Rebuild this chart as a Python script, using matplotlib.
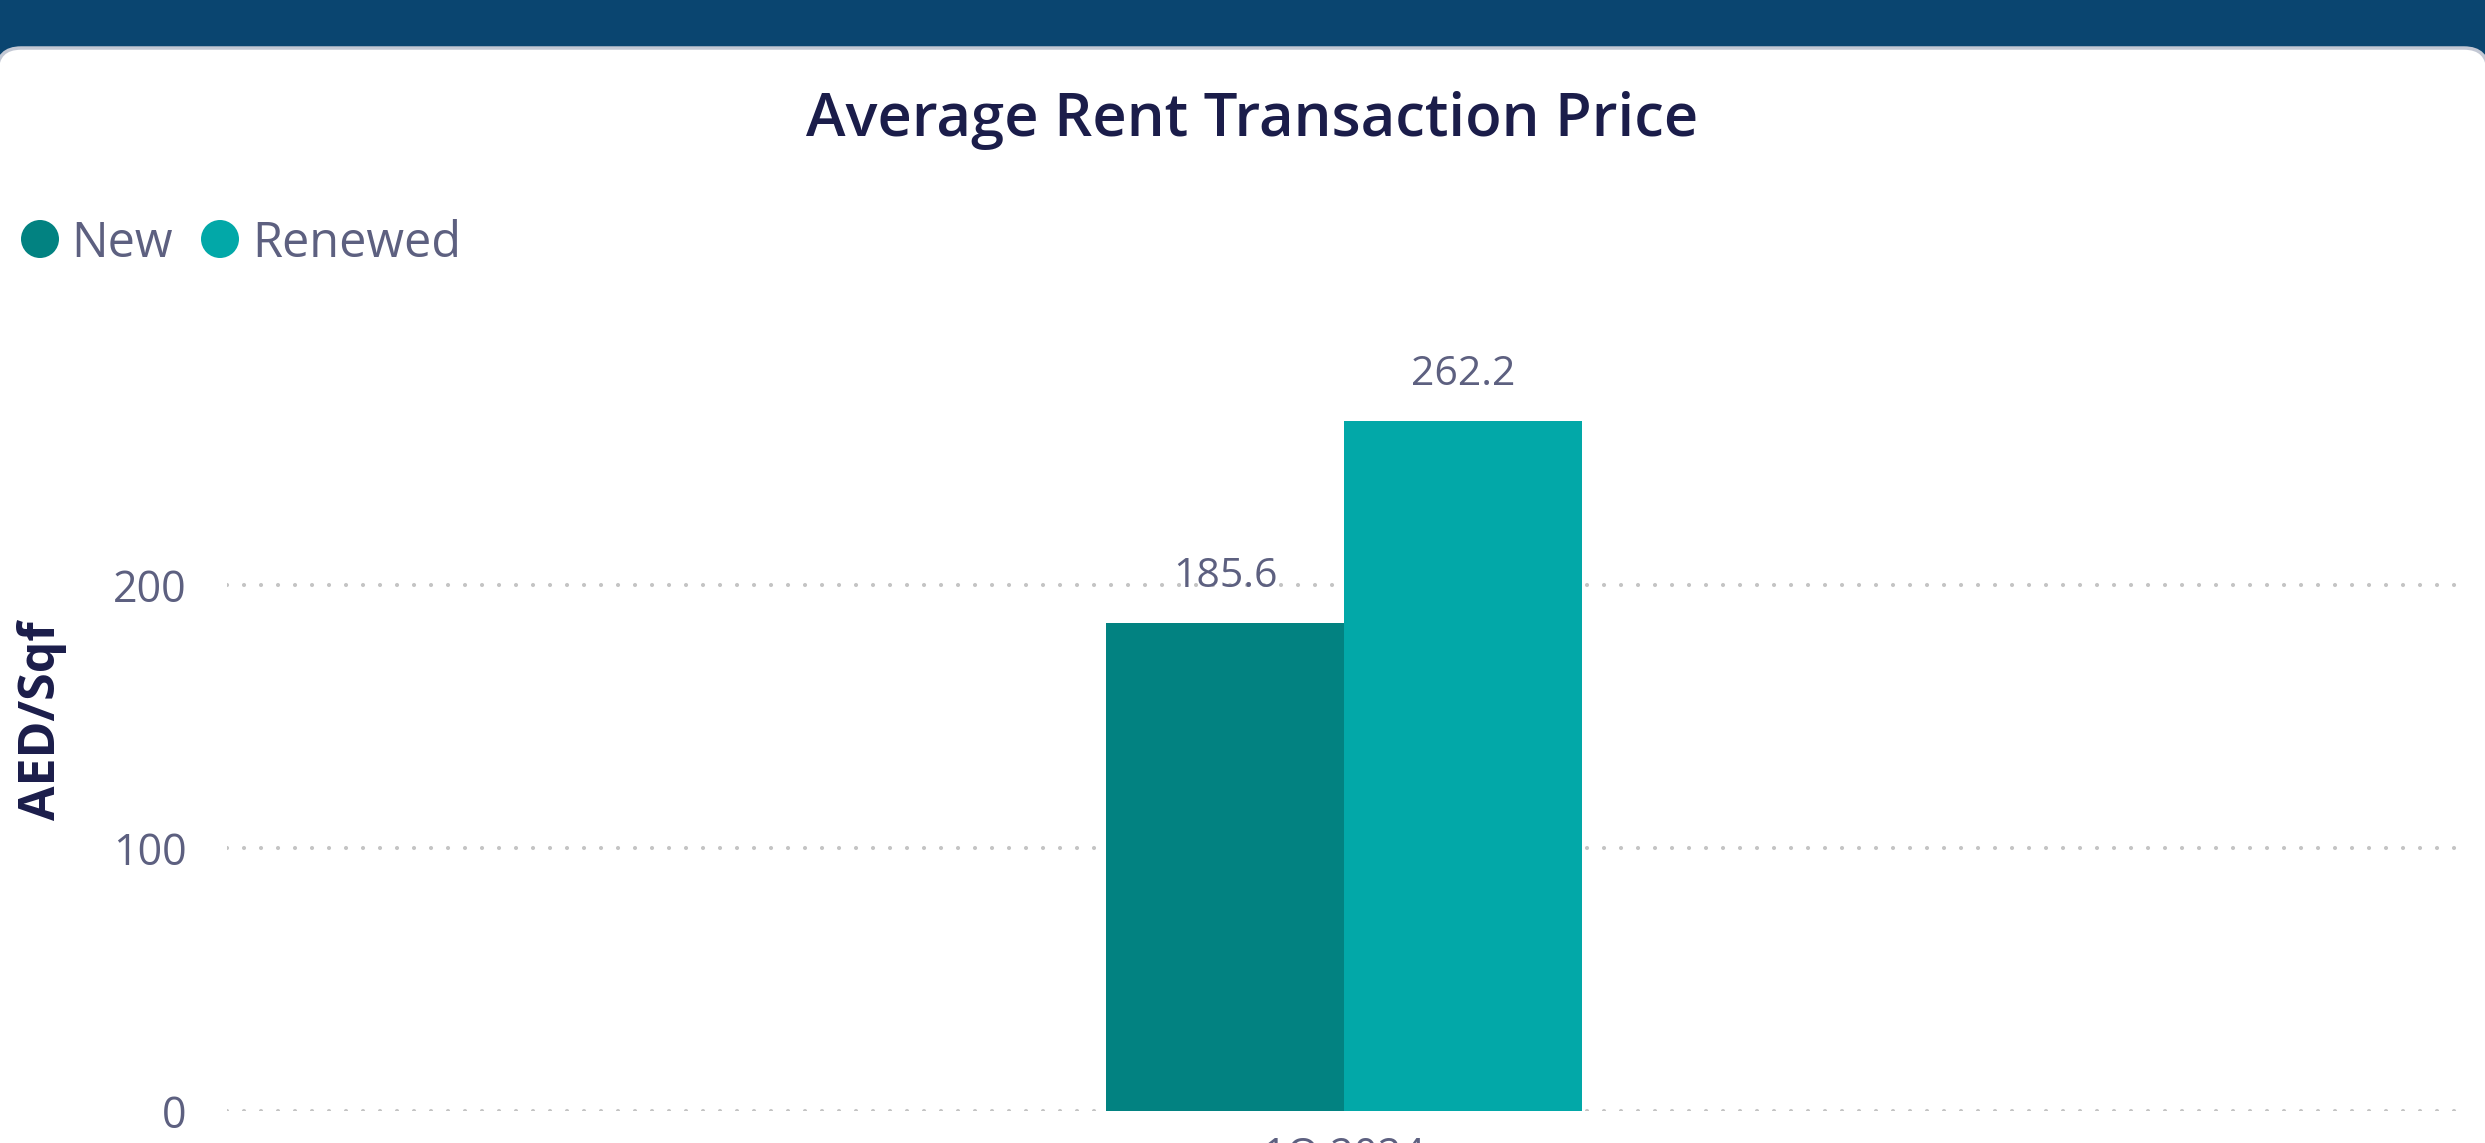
import numpy as np
import matplotlib.pyplot as plt
from matplotlib.patches import Rectangle, FancyBboxPatch, Circle

W, H = 2485, 1143

periods = ["1Q 2024"]
series = ["New", "Renewed"]
new_vals = [185.6]
renewed_vals = [262.2]
y_ticks = [0, 100, 200]

colors = ["#028281", "#02A8A8"]
navy = "#1B1D4A"
grey_txt = "#5D6080"

plt.rcParams['font.family'] = ['Open Sans', 'DejaVu Sans']

fig = plt.figure(figsize=(W / 100, H / 100), dpi=100)
fig.patch.set_facecolor("white")

# background layer in pixel coords (y down)
bg = fig.add_axes([0, 0, 1, 1], zorder=0)
bg.set_xlim(0, W)
bg.set_ylim(H, 0)
bg.axis("off")
bg.add_patch(Rectangle((0, 0), W, 80, color="#0A4570", lw=0))
bg.add_patch(FancyBboxPatch((-3, 48), W + 6, H + 60,
                            boxstyle="round,pad=0,rounding_size=24",
                            facecolor="white", edgecolor="#C3C8D4", lw=2.5))

# title and legend
bg.text(1252, 121, "Average Rent Transaction Price", ha="center", va="center",
        fontsize=43, fontweight="semibold", color=navy)
lx = [40, 220]
tx = [71, 252]
for i, name in enumerate(series):
    bg.add_patch(Circle((lx[i], 239), 19, color=colors[i], lw=0))
    bg.text(tx[i], 257, name, ha="left", va="baseline", fontsize=35, color=grey_txt)

bg.text(42, 721, "AED/Sqf", rotation=90, ha="center", va="center",
        fontsize=36, fontweight="bold", color=navy)

# plot area in pixels
left_px, right_px, bottom_px, top_px = 227, 2470, 1111, 322
center_px, bar_px = 1344, 238
ax = fig.add_axes([left_px / W, 1 - bottom_px / H,
                   (right_px - left_px) / W, (bottom_px - top_px) / H], zorder=1)
ax.patch.set_alpha(0)

bw = 0.25
unit = bar_px / bw
ax.set_xlim(-(center_px - left_px) / unit, (right_px - center_px) / unit)
ax.set_ylim(0, 300)

x = np.arange(len(periods))
b1 = ax.bar(x - bw / 2, new_vals, bw, color=colors[0], zorder=2)
b2 = ax.bar(x + bw / 2, renewed_vals, bw, color=colors[1], zorder=2)

for bars, vals in [(b1, new_vals), (b2, renewed_vals)]:
    for r, v in zip(bars, vals):
        ax.annotate(f"{v:.1f}", (r.get_x() + r.get_width() / 2, v),
                    xytext=(0, 26), textcoords="offset points",
                    ha="center", va="baseline", fontsize=29.5, color=grey_txt)

for t in y_ticks:
    ax.axhline(t, color="#C4C4C4", lw=3, linestyle=(0, (0.01, 4.07)),
               dash_capstyle="round", zorder=1)

ax.set_yticks(y_ticks)
ax.set_xticks(x, periods)
ax.tick_params(axis="y", length=0, pad=29, labelsize=31, labelcolor=grey_txt)
ax.tick_params(axis="x", length=0, pad=18, labelsize=30, labelcolor=grey_txt)
for s in ax.spines.values():
    s.set_visible(False)

fig.savefig("out.png", dpi=100)
